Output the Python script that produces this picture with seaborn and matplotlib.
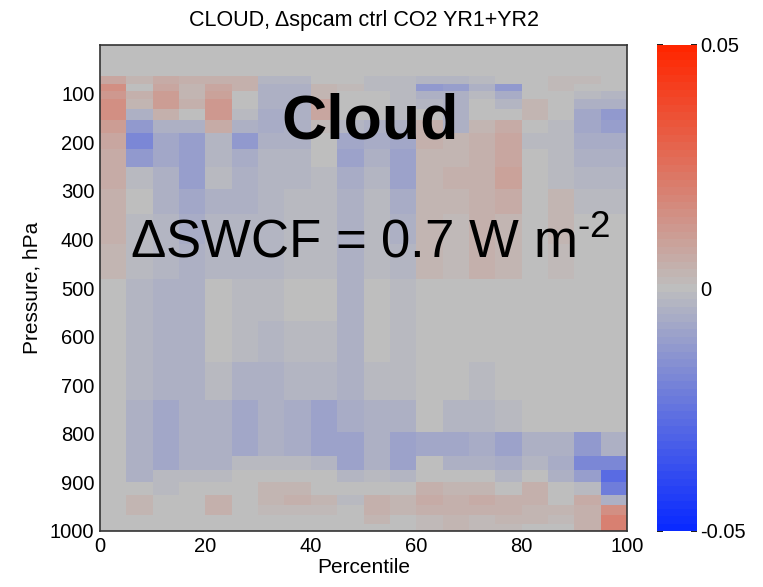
import numpy as np
import pandas as pd
import matplotlib
matplotlib.use("Agg")
import matplotlib.pyplot as plt
import seaborn as sns
from matplotlib.colors import LinearSegmentedColormap

# percentile bins (5 % wide) and model layer interfaces (hPa)
percentile_edges = [0, 5, 10, 15, 20, 25, 30, 35, 40, 45, 50,
                    55, 60, 65, 70, 75, 80, 85, 90, 95, 100]
pressure_edges = [63.3, 80.7, 94.9, 111.7, 131.4, 154.6, 181.9, 214.0,
                  251.7, 296.1, 348.4, 409.8, 482.2, 567.2, 652.3, 730.5,
                  796.4, 845.4, 873.7, 900.3, 925.0, 947.4, 967.5, 985.1, 1000.0]

# cloud change per layer (layer mid pressure in the name), one value per percentile bin
p072 = [.008, .003, .006, .004, .005, .004, -.003, -.003, 0, 0, -.002, -.002, -.003, -.003, -.002, 0, 0, .002, .002, 0]
p088 = [.015, .000, .008, .003, .008, .005, -.005, -.005, .003, .002, -.001, -.002, -.012, -.010, -.005, -.012, 0, .002, 0, 0]
p103 = [.012, .005, .010, .003, .009, 0, -.005, -.005, .003, 0, 0, -.002, -.005, -.005, -.001, -.006, 0, 0, -.002, -.003]
p122 = [.015, .003, .010, .005, .013, 0, -.005, -.005, .007, 0, 0, -.002, -.003, -.004, 0, -.003, .003, 0, -.005, -.005]
p143 = [.015, -.004, .005, 0, .013, -.002, -.006, -.005, .007, 0, 0, -.002, 0, -.005, 0, 0, .003, 0, -.007, -.013]
p168 = [.010, -.012, -.005, -.004, .006, -.005, -.006, -.005, .001, -.003, -.004, -.004, .004, -.004, .003, .006, 0, -.001, -.007, -.010]
p198 = [.007, -.018, -.008, -.010, -.003, -.012, -.004, -.005, 0, -.007, -.006, -.007, .005, .003, .004, .007, -.001, -.002, -.006, -.006]
p233 = [.006, -.012, -.007, -.010, -.003, -.006, -.003, -.003, 0, -.009, -.005, -.009, .003, .003, .005, .008, 0, -.001, -.004, -.004]
p274 = [.006, -.001, -.004, -.010, -.002, -.004, -.003, -.003, -.001, -.006, -.003, -.009, .003, .004, .005, .009, 0, -.001, -.003, -.003]
p322 = [.005, 0, -.004, -.008, -.004, -.004, -.003, -.002, -.002, -.005, -.002, -.006, .003, .003, .005, .006, 0, .003, -.002, -.001]
p379 = [.004, -.002, -.003, -.006, -.003, -.003, -.003, -.002, -.002, -.004, -.002, -.004, .003, .002, .005, .003, 0, .003, 0, 0]
p446 = [.003, -.002, -.003, -.004, -.003, -.003, -.003, -.002, -.002, -.004, -.002, -.003, .003, .002, .004, .003, 0, .002, 0, 0]
p525 = [0, -.003, -.004, -.004, 0, -.002, -.002, 0, 0, -.004, 0, -.002, 0, 0, 0, 0, 0, 0, 0, 0]
p610 = [0, -.003, -.004, -.004, 0, -.002, -.003, -.001, -.001, -.004, 0, -.002, 0, 0, 0, 0, 0, 0, 0, 0]
p691 = [0, -.003, -.004, -.004, -.001, -.005, -.005, -.003, -.003, -.005, -.001, -.002, 0, 0, -.001, 0, 0, 0, 0, 0]
p763 = [0, -.005, -.007, -.004, -.004, -.007, -.005, -.006, -.009, -.006, -.004, -.004, 0, -.003, -.003, -.002, 0, 0, 0, 0]
p821 = [0, -.005, -.007, -.004, -.004, -.007, -.005, -.006, -.009, -.009, -.004, -.009, -.008, -.008, -.006, -.009, -.005, -.005, -.013, -.005]
p860 = [0, -.005, -.007, -.004, -.004, -.002, -.002, -.002, -.003, -.009, -.004, -.009, 0, -.004, -.005, -.006, -.003, -.006, -.018, -.018]
p887 = [0, -.005, -.002, -.002, -.002, 0, 0, 0, 0, -.003, -.002, -.003, 0, 0, 0, -.003, 0, -.004, -.011, -.028]
p913 = [0, 0, -.002, 0, 0, 0, .003, .003, 0, 0, 0, 0, .005, .003, .003, 0, .005, 0, -.002, -.022]
p936 = [0, .003, 0, 0, .004, 0, .003, .004, .003, -.001, .004, .003, .006, .005, .006, .004, .005, 0, .006, -.004]
p957 = [0, .003, 0, 0, .004, 0, .002, .002, .002, 0, .004, .003, .005, .004, .004, .004, .003, .003, .005, .016]
p976 = [0, 0, 0, 0, 0, 0, 0, 0, 0, 0, .003, 0, .002, .003, .002, .003, .003, .002, .004, .020]
p993 = [0, 0, 0, 0, 0, 0, 0, 0, 0, 0, 0, 0, .002, .003, .002, .002, 0, 0, .004, .020]

layers = [p072, p088, p103, p122, p143, p168, p198, p233, p274, p322, p379, p446,
          p525, p610, p691, p763, p821, p860, p887, p913, p936, p957, p976, p993]

title = "CLOUD, \u0394spcam ctrl CO2 YR1+YR2"


def pressure_grid(values: list, edges: list) -> pd.DataFrame:
    """ Put each layer on a 1 hPa grid so the heatmap rows keep the real layer depth """
    values = np.array(values, dtype=float)
    rows = np.arange(1000) + 0.5
    idx = np.searchsorted(edges, rows) - 1
    grid = np.full((len(rows), values.shape[1]), np.nan)
    inside = (idx >= 0) & (idx < len(values))
    grid[inside] = values[idx[inside]]
    return pd.DataFrame(grid)


sns.set_theme(style="white")
plt.rcParams["font.family"] = ["Liberation Sans", "DejaVu Sans"]
plt.rcParams["mathtext.fontset"] = "custom"
plt.rcParams["mathtext.rm"] = "Liberation Sans"
plt.rcParams["axes.unicode_minus"] = False
for key in ["text.color", "axes.labelcolor", "xtick.color", "ytick.color"]:
    plt.rcParams[key] = "black"

# odd number of levels so that zero sits in a pure gray bin
cmap = LinearSegmentedColormap.from_list(
    "bgr", ["#0a2aff", "#bebebe", "#ff2600"], N=65)

fig = plt.figure(figsize=(7.63, 5.87), dpi=100)
ax = fig.add_axes([100 / 763, 56 / 587, 527 / 763, 486 / 587])
cax = fig.add_axes([657 / 763, 56 / 587, 40 / 763, 486 / 587])
ax.set_facecolor(cmap(0.5))

df = pressure_grid(layers, pressure_edges)
sns.heatmap(df, ax=ax, cmap=cmap, vmin=-0.05, vmax=0.05, cbar_ax=cax,
            xticklabels=False, yticklabels=False)

ncol = len(percentile_edges) - 1
ax.set_xlim(0, ncol)
ax.set_ylim(1000, 0)
ax.set_xticks([0, 4, 8, 12, 16, 20])
ax.set_xticklabels(["0", "20", "40", "60", "80", "100"])
ax.set_yticks([100, 200, 300, 400, 500, 600, 700, 800, 900, 1000])
ax.set_yticklabels([str(p) for p in range(100, 1001, 100)])
ax.tick_params(length=0, labelsize=14.5, pad=4)
for tl in ax.get_yticklabels():
    tl.set_rotation(0)
for spine in ax.spines.values():
    spine.set_visible(True)
    spine.set_color("#333333")
    spine.set_linewidth(1.2)

ax.set_xlabel("Percentile", fontsize=15, labelpad=2)
ax.set_ylabel("Pressure, hPa", fontsize=15, labelpad=6)
ax.set_title(title, fontsize=15.5, pad=14)

ax.text(0.512, 0.842, "Cloud", transform=ax.transAxes, ha="center", va="center",
        fontsize=45, fontweight="bold")
ax.text(0.512, 0.593, "\u0394SWCF = 0.7 W m$^{\\text{-2}}$", transform=ax.transAxes,
        ha="center", va="center", fontsize=38)

cb = ax.collections[0].colorbar
cb.outline.set_visible(True)
cb.outline.set_edgecolor("#777777")
cb.set_ticks([-0.05, 0, 0.05])
cb.set_ticklabels(["-0.05", "0", "0.05"])
cax.tick_params(direction="in", length=4, left=True, right=True, labelsize=14.5, pad=2)

fig.savefig("out.png", dpi=100)
plt.close()
